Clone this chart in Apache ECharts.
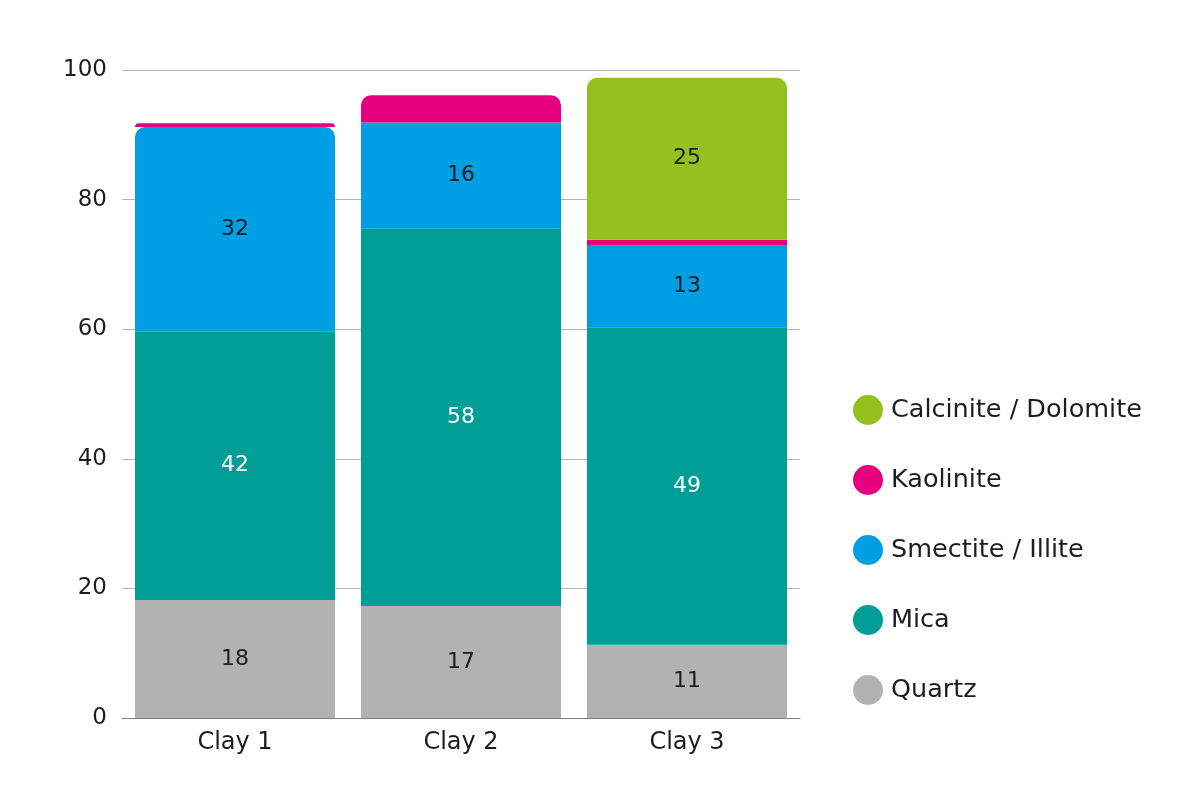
<!DOCTYPE html>
<html>
<head>
<meta charset="utf-8">
<script src="https://cdn.jsdelivr.net/npm/echarts@6/dist/echarts.min.js"></script>
<style>
  html, body { margin: 0; padding: 0; background: #fff; }
  #chart { width: 1200px; height: 800px; }
</style>
</head>
<body>
<div id="chart"></div>
<script>
const categories = ['Clay 1', 'Clay 2', 'Clay 3'];
const quartz = [18.2, 17.3, 11.3];
const mica = [41.5, 58.2, 49.0];
const smectite = [31.5, 16.4, 12.7];
const kaolinite = [0.6, 4.2, 0.8];
const calcinite = [0, 0, 25.0];
const yTicks = [0, 20, 40, 60, 80, 100];

const fontFamily = '"DejaVu Sans", "Noto Sans", sans-serif';

const chart = echarts.init(document.getElementById('chart'));

const labelFor = (color) => ({
    show: true,
    position: 'inside',
    color,
    fontSize: 22,
    fontFamily,
    formatter: (p) => (p.value >= 5 ? Math.round(p.value) : ''),
});

// top of each stack gets rounded corners
const topIndex = categories.map((_, i) => (calcinite[i] > 0 ? 'calc' : 'kao'));

const makeData = (arr, key, r) =>
    arr.map((v, i) => {
        const item = { value: v };
        if (topIndex[i] === key) item.itemStyle = { borderRadius: [r, r, 0, 0] };
        return item;
    });

const smectiteData = smectite.map((v, i) => {
    const item = { value: v };
    if (i === 0) item.itemStyle = { borderRadius: [10, 10, 0, 0] };
    return item;
});

const option = {
    animation: false,
    textStyle: { fontFamily },
    grid: { left: 122, right: 400, top: 70, bottom: 82, containLabel: false },
    legend: {
        orient: 'vertical',
        left: 848,
        top: 390,
        itemWidth: 30,
        itemHeight: 30,
        itemGap: 40,
        icon: 'circle',
        data: ['Calcinite / Dolomite', 'Kaolinite', 'Smectite / Illite', 'Mica', 'Quartz'],
        textStyle: { fontSize: 25.5, color: '#1d1d1b', fontFamily, padding: [0, 0, 0, 3] },
    },
    xAxis: {
        type: 'category',
        data: categories,
        axisTick: { show: false },
        axisLine: { lineStyle: { color: '#808080', width: 1 } },
        axisLabel: { fontSize: 24, color: '#1d1d1b', margin: 13, fontFamily },
    },
    yAxis: {
        type: 'value',
        min: yTicks[0],
        max: yTicks[yTicks.length - 1],
        interval: 20,
        axisLine: { show: false },
        axisTick: { show: false },
        splitLine: { lineStyle: { color: '#b3b3b3', width: 1 } },
        axisLabel: { fontSize: 23, color: '#1d1d1b', margin: 15, fontFamily },
    },
    series: [
        {
            name: 'Quartz',
            type: 'bar',
            stack: 'total',
            barWidth: 200,
            data: quartz,
            itemStyle: { color: '#b2b2b2' },
            label: labelFor('#1d1d1b'),
        },
        {
            name: 'Mica',
            type: 'bar',
            stack: 'total',
            data: mica,
            itemStyle: { color: '#009e96' },
            label: labelFor('#ffffff'),
        },
        {
            name: 'Smectite / Illite',
            type: 'bar',
            stack: 'total',
            data: smectiteData,
            itemStyle: { color: '#009fe3' },
            label: labelFor('#1d1d1b'),
        },
        {
            name: 'Kaolinite',
            type: 'bar',
            stack: 'total',
            data: makeData(kaolinite, 'kao', 10),
            itemStyle: { color: '#e6007e' },
            label: labelFor('#1d1d1b'),
        },
        {
            name: 'Calcinite / Dolomite',
            type: 'bar',
            stack: 'total',
            data: makeData(calcinite, 'calc', 10),
            itemStyle: { color: '#95c11f' },
            label: labelFor('#1d1d1b'),
        },
    ],
};

chart.setOption(option);
</script>
</body>
</html>
